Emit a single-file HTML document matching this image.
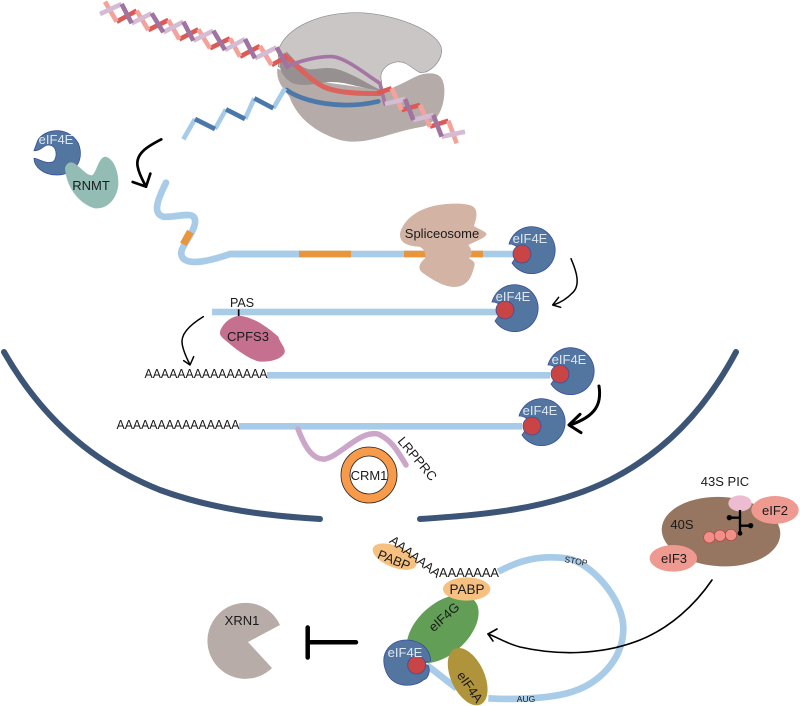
<!DOCTYPE html>
<html><head><meta charset="utf-8"><style>
html,body{margin:0;padding:0;background:#fff}
svg{display:block}
text{font-family:"Liberation Sans",sans-serif;font-size:13px;fill:#1a1a1a;text-anchor:middle}
.w{fill:#dfe7f1}
</style></head><body>
<svg width="800" height="706" viewBox="0 0 800 706" xmlns="http://www.w3.org/2000/svg">
<defs>
<g id="e"><path d="M-23,-7 A23.5,23.5 0 1 1 -20,12 Q-17,8 -15,4 L-15,-4 Q-18,-7 -23,-7Z" fill="#52769f" stroke="#3b4f9c" stroke-width=".8"/></g>
</defs>
<rect width="800" height="706" fill="#fff"/>

<!-- ribosome -->
<g transform="translate(90,0) scale(.33333)">
<path d="M565,150 C590,80 690,38 800,38 C900,38 1050,90 1055,150 C1055,185 1020,220 990,218 C965,205 950,185 925,185 C890,188 865,215 875,245 L870,270 C760,230 650,240 565,200Z" fill="#c9c6c5" stroke="#8b8b8b" stroke-width="2"/>
<path d="M562,205 C558,245 580,265 598,290 C620,350 670,395 750,420 C830,440 900,395 1000,380 C1050,365 1065,310 1063,265 C1060,225 1040,215 1000,222 C970,228 930,260 880,272 C760,250 650,250 562,205Z" fill="#b5aba8"/>
<path d="M590,155 C610,175 630,205 660,208 C690,208 710,198 750,210 C800,228 840,255 875,272 C810,265 770,245 720,246 C680,248 650,262 610,250 C585,240 565,210 570,185Z" fill="#979090"/>
<g fill="none" stroke-linecap="round" stroke-linejoin="round">
<path d="M590,270 C620,292 680,313 760,315 C800,316 840,310 865,304" stroke="#4c78aa" stroke-width="14"/>
<path d="M585,167 C620,195 660,240 700,260 C740,278 800,282 872,280" stroke="#dc625e" stroke-width="15"/>
<path d="M600,195 C640,180 690,168 730,170 C770,175 830,225 870,250 L885,312" stroke="#a576a4" stroke-width="11"/>
</g>
<g fill="none" stroke-width="14" stroke-linecap="butt">
<!-- mRNA zigzag -->
<path d="M280,418L315,357M375,387L408,328M465,357L493,295M550,325L585,265" stroke="#a5cbe8"/>
<path d="M315,357L375,387M408,328L465,357M493,295L550,325" stroke="#4a78ab"/>
<!-- left helix red -->
<path d="M80,65L140,32M175,90L235,60M268,118L325,88M360,145L420,115M450,170L510,138M545,195L590,170" stroke="#dc5a55"/>
<path d="M45,5L80,65M140,32L175,90M235,60L268,118M325,88L360,145M420,115L450,170M510,138L545,195" stroke="#f4a29c"/>
<!-- left helix purple -->
<path d="M30,42L95,12M125,70L185,40M220,97L280,65M310,122L370,92M405,150L465,117M495,175L560,142" stroke="#d4bdd4"/>
<path d="M95,12L125,70M185,40L220,97M280,65L310,122M370,92L405,150M465,117L495,175M560,142L595,205" stroke="#a073a0"/>
<!-- right helix -->
<path d="M860,280L905,265M935,330L990,315M1020,380L1075,362" stroke="#dc5a55"/>
<path d="M905,265L935,330M990,315L1020,380M1075,362L1100,430" stroke="#f4a29c"/>
<path d="M885,312L945,297M970,360L1030,345M1055,410L1125,395" stroke="#d4bdd4"/>
<path d="M945,297L970,360M1030,345L1055,410" stroke="#a073a0"/>
</g>
</g>

<!-- RNMT and first arrow -->
<g transform="translate(20,120) scale(.33333)">
<path d="M50,70 C60,30 140,10 175,70 C195,120 165,165 110,165 C70,165 42,140 42,115 C55,115 80,135 100,125 C115,110 110,75 85,75 C70,75 60,95 42,92Z" fill="#52769f" stroke="#3b4f9c" stroke-width="2.5"/>
<path d="M135,145 C140,125 155,122 170,135 C190,150 205,170 218,165 C232,150 235,115 255,110 C285,115 297,165 295,195 C290,240 260,268 225,265 C185,255 140,210 135,145Z" fill="#93bdb4"/>
<g fill="none" stroke="#000" stroke-width="8" stroke-linecap="round" stroke-linejoin="round">
<path d="M424,58 C385,78 345,100 353,140 C358,165 368,180 378,200"/>
<path d="M338,186L378,200L391,161"/>
</g>
<!-- mRNA wave -->
<path d="M438,188 C420,225 392,280 430,290 C470,295 530,265 525,310 C520,340 490,370 484,395 C480,440 550,430 630,402 L840,402" fill="none" stroke="#a8cce8" stroke-width="20" stroke-linecap="round"/>
<path d="M511,335L490,373" stroke="#e8953c" stroke-width="22" fill="none"/>
</g>
<text x="56" y="144" class="w">eIF4E</text>
<text x="91" y="190">RNMT</text>

<!-- spliced transcript -->
<rect x="230" y="250.7" width="285" height="6.6" fill="#a8cce8"/>
<rect x="299" y="250.7" width="52" height="6.6" fill="#e8953c"/>
<rect x="404" y="250.7" width="22" height="6.6" fill="#e8953c"/>
<rect x="470" y="250.7" width="13" height="6.6" fill="#e8953c"/>
<g transform="translate(390,190) scale(.33333)">
<path d="M30,130 C40,90 80,60 130,48 C170,40 240,35 255,55 C265,75 255,95 252,108 C265,118 285,122 290,132 C285,145 260,152 235,165 C245,178 250,195 237,205 C248,212 258,215 252,232 C245,255 240,280 205,290 C165,295 130,270 100,250 C85,240 82,225 105,205 C110,185 95,170 85,170 C55,168 28,160 30,130Z" fill="#d2b3a4"/>
<g fill="none" stroke="#000" stroke-width="4.5" stroke-linecap="round" stroke-linejoin="round">
<path d="M543,206 C560,245 572,285 548,308 C532,325 512,338 490,345"/>
<path d="M506,322L488,345L512,352"/>
</g>
</g>
<text x="442" y="238">Spliceosome</text>
<use href="#e" x="532" y="251"/><circle cx="522" cy="254" r="9" fill="#c94444" stroke="#3b4f9c" stroke-width=".8"/>
<text x="530" y="243" class="w">eIF4E</text>

<!-- PAS -->
<rect x="212" y="308.7" width="286" height="6.6" fill="#a8cce8"/>
<use href="#e" x="515" y="309"/><circle cx="505" cy="310" r="9" fill="#c94444" stroke="#3b4f9c" stroke-width=".8"/>
<text x="513" y="301" class="w">eIF4E</text>
<text x="242" y="307" style="font-size:12.5px">PAS</text>
<g transform="translate(130,290) scale(.33333)">
<path d="M270,125 C280,95 310,75 335,78 C375,85 410,110 445,140 C450,160 470,175 463,190 C450,210 420,215 390,215 C360,210 320,180 285,150 C275,142 268,135 270,125Z" fill="#c5708f"/>
<path d="M326,58L326,78" stroke="#000" stroke-width="5"/>
<g fill="none" stroke="#000" stroke-width="4.5" stroke-linecap="round" stroke-linejoin="round">
<path d="M220,80 C175,108 150,135 157,165 C162,190 172,208 180,224"/>
<path d="M161,212L180,225L191,200"/>
</g>
</g>
<text x="248" y="341">CPFS3</text>

<!-- polyA 1 -->
<rect x="267" y="372" width="283" height="6.6" fill="#a8cce8"/>
<text x="206" y="378" textLength="123" lengthAdjust="spacingAndGlyphs">AAAAAAAAAAAAAAA</text>
<use href="#e" x="571" y="372"/><circle cx="560" cy="374" r="9" fill="#c94444" stroke="#3b4f9c" stroke-width=".8"/>
<text x="569" y="364" class="w">eIF4E</text>

<!-- polyA 2 -->
<rect x="239" y="423" width="283" height="6.6" fill="#a8cce8"/>
<text x="178" y="429" textLength="123" lengthAdjust="spacingAndGlyphs">AAAAAAAAAAAAAAA</text>
<use href="#e" x="542" y="423"/><circle cx="532" cy="426" r="9" fill="#c94444" stroke="#3b4f9c" stroke-width=".8"/>
<text x="540" y="415" class="w">eIF4E</text>

<g transform="translate(500,340) scale(.33333)" fill="none" stroke="#000" stroke-width="9" stroke-linecap="round" stroke-linejoin="round">
<path d="M297,138 C305,190 290,228 210,255"/>
<path d="M240,223L207,255L243,278"/>
</g>

<!-- envelope -->
<g fill="none" stroke="#3c5475" stroke-width="6">
<path d="M4,352 C40,415 90,462 160,490 C215,510 270,516 320,519" stroke-linecap="round"/>
<path d="M736,352 C705,410 665,452 610,480 C550,510 480,515 420,519" stroke-linecap="round"/>
</g>

<!-- CRM1 -->
<path d="M298,429 C306,450 314,460 325,459 C340,456 360,430 378,434 C392,440 398,452 406,465" fill="none" stroke="#cba6c9" stroke-width="5.5" stroke-linecap="round"/>
<circle cx="369" cy="475" r="28" fill="#f79a4a" stroke="#222" stroke-width=".8"/>
<circle cx="369" cy="475" r="19" fill="#fff" stroke="#222" stroke-width=".8"/>
<text x="369" y="480">CRM1</text>
<text transform="translate(417,459) rotate(50)" x="0" y="4">LRPPRC</text>

<!-- 43S -->
<g transform="translate(630,470) scale(.33333)">
<ellipse cx="273" cy="185" rx="178" ry="104" transform="rotate(3 273 185)" fill="#967660"/>
<ellipse cx="330" cy="100" rx="35" ry="24" fill="#ecbcd0"/>
<ellipse cx="435" cy="120" rx="71" ry="42" fill="#ef9a90"/>
<ellipse cx="130" cy="265" rx="71" ry="40" fill="#ef9a90"/>
<circle cx="238" cy="202" r="17" fill="#ef8f88" stroke="#b04040" stroke-width="2"/>
<circle cx="270" cy="197" r="17" fill="#ef8f88" stroke="#b04040" stroke-width="2"/>
<circle cx="303" cy="195" r="17" fill="#ef8f88" stroke="#b04040" stroke-width="2"/>
<path d="M330,120L330,190M298,143L330,143M330,167L362,167" stroke="#000" stroke-width="7" fill="none"/>
<circle cx="298" cy="143" r="8"/><circle cx="362" cy="167" r="8"/><circle cx="330" cy="190" r="7"/>
</g>
<text x="725" y="486">43S PIC</text>
<text x="682" y="529">40S</text>
<text x="775" y="515">eIF2</text>
<text x="674" y="563">eIF3</text>

<!-- loop -->
<g transform="translate(360,525) scale(.33333)">
<path d="M415,140 C480,105 540,90 620,100 C690,110 790,220 790,310 C790,400 720,480 620,505 C560,520 460,525 385,520" fill="none" stroke="#a8cce8" stroke-width="20"/>
<path d="M200,420L290,490" fill="none" stroke="#a8cce8" stroke-width="20"/>
<ellipse cx="248" cy="312" rx="128" ry="76" transform="rotate(-42 248 312)" fill="#629e55"/>
<ellipse cx="323" cy="455" rx="50" ry="92" transform="rotate(-25 323 455)" fill="#b0943c"/>
<ellipse cx="320" cy="192" rx="71" ry="35" fill="#f5c080"/>
<ellipse cx="104" cy="95" rx="70" ry="32" transform="rotate(22 104 95)" fill="#f5c080"/>
<path d="M212,408 C195,410 190,418 205,422 C212,440 205,460 190,465 C160,490 90,490 75,430 C60,380 95,345 140,345 C180,345 210,370 212,408Z" fill="#52769f" stroke="#3b4f9c" stroke-width="2.5"/>
<circle cx="170" cy="420" r="27" fill="#c94444" stroke="#3b4f9c" stroke-width="2.5"/>
</g>
<text x="405" y="657" class="w">eIF4E</text>
<text transform="translate(444,617) rotate(-42)" x="0" y="4.5">eIF4G</text>
<text transform="translate(470,687) rotate(55)" x="0" y="4.5">eIF4A</text>
<text x="467" y="594" style="font-size:13.5px">PABP</text>
<text transform="translate(394,560) rotate(22)" x="0" y="4.5">PABP</text>
<text x="469" y="577" textLength="60" lengthAdjust="spacingAndGlyphs">AAAAAAA</text>
<text transform="translate(415,557) rotate(37)" x="0" y="4" textLength="60" lengthAdjust="spacingAndGlyphs">AAAAAAA</text>
<text transform="translate(576,561) rotate(10)" x="0" y="3" style="font-size:8.5px">STOP</text>
<text x="526" y="702" style="font-size:8.5px">AUG</text>

<!-- long arrow -->
<g fill="none" stroke="#000" stroke-width="1.6" stroke-linecap="round" stroke-linejoin="round">
<path d="M712,580 C695,605 670,628 640,640 C600,656 555,655 520,647 C505,643 495,636 488,634"/>
<path d="M497,629L488,634L493,641"/>
</g>

<!-- XRN1 -->
<path d="M280,625 A38,38 0 1 0 272,668 L248,642Z" fill="#b8aca8"/>
<text x="242" y="625">XRN1</text>
<path d="M307.7,627.5L307.7,657.5M309,642.3L356,642.3" stroke="#000" stroke-width="4.5" stroke-linecap="round" fill="none"/>
</svg>
</body></html>
